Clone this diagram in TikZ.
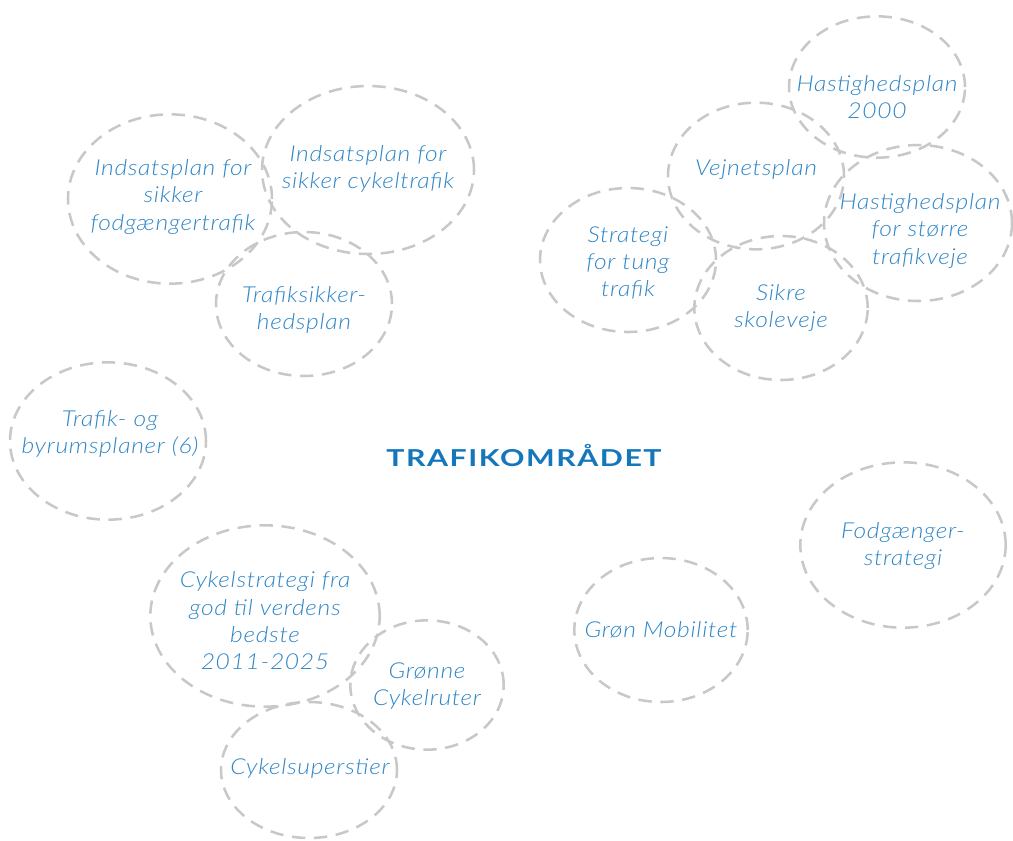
\documentclass[tikz,border=0pt]{standalone}
\usepackage{fontspec}
\setmainfont{Lato}[FakeStretch=1.12, ItalicFont={Lato Light Italic}]
\newfontfamily\titlefont{Lato}[FakeStretch=1.3]
\usetikzlibrary{shapes.geometric}
\definecolor{dashgray}{HTML}{C8C8C8}
\definecolor{txtblue}{HTML}{2F86C6}
\definecolor{titleblue}{HTML}{1577BB}
\tikzset{
  bubble/.style={ellipse, draw=dashgray, line width=1.9pt, dash pattern=on 10pt off 6.5pt, inner sep=0pt},
  txt/.style={text=txtblue, align=center, font=\fontsize{16.5}{20.5}\selectfont\itshape\addfontfeature{LetterSpace=3}},
  title/.style={text=titleblue, font=\titlefont\fontsize{17.5}{21}\selectfont\bfseries\addfontfeature{LetterSpace=6.5}}
}
\begin{document}
\begin{tikzpicture}[x=0.75pt,y=-0.75pt]
\useasboundingbox (0,0) rectangle (1013,840);
% ellipses
\node[bubble, minimum width=153pt, minimum height=127pt] (e1) at (170,199) {};
\node[bubble, minimum width=159pt, minimum height=126pt] (e2) at (368,170) {};
\node[bubble, minimum width=132pt, minimum height=108pt] (e3) at (304,304) {};
\node[bubble, minimum width=147pt, minimum height=118pt] (e4) at (108,441) {};
\node[bubble, minimum width=172pt, minimum height=136pt] (e6) at (265,616) {};
\node[bubble, minimum width=115pt, minimum height=97pt] (e7) at (427,685) {};
\node[bubble, minimum width=132pt, minimum height=102pt] (e8) at (309,770) {};
\node[bubble, minimum width=130pt, minimum height=108pt] (e9) at (661,630) {};
\node[bubble, minimum width=154pt, minimum height=124pt] (e10) at (903,545) {};
\node[bubble, minimum width=132pt, minimum height=106pt] (e11) at (877,87) {};
\node[bubble, minimum width=132pt, minimum height=110pt] (e12) at (756,176) {};
\node[bubble, minimum width=141pt, minimum height=117pt] (e13) at (918,223) {};
\node[bubble, minimum width=132pt, minimum height=108pt] (e14) at (628,260) {};
\node[bubble, minimum width=130pt, minimum height=108pt] (e15) at (781,308) {};
% texts
\node[txt] (t1) at (173,197) {Indsatsplan for\\sikker\\fodgængertrafik};
\node[txt] (t2) at (368,169) {Indsatsplan for\\sikker cykeltrafik};
\node[txt] (t3) at (304,310) {Trafiksikker-\\hedsplan};
\node[txt] (t4) at (110,434) {Trafik- og\\byrumsplaner (6)};
\node[txt] (t6) at (265,621) {Cykelstrategi fra\\god til verdens\\bedste\\2011-2025};
\node[txt] (t7) at (427,686) {Grønne\\Cykelruter};
\node[txt] (t8) at (310,768) {Cykelsuperstier};
\node[txt] (t9) at (661,630) {Grøn Mobilitet};
\node[txt] (t10) at (903,546) {Fodgænger-\\strategi};
\node[txt] (t11) at (877,97) {Hastighedsplan\\2000};
\node[txt] (t12) at (756,170) {Vejnetsplan};
\node[txt] (t13) at (920,231) {Hastighedsplan\\for større\\trafikveje};
\node[txt] (t14) at (628,263) {Strategi\\for tung\\trafik};
\node[txt] (t15) at (781,308) {Sikre\\skoleveje};
\node[title] (title) at (524,456) {TRAFIKOMRÅDET};
\end{tikzpicture}
\end{document}
